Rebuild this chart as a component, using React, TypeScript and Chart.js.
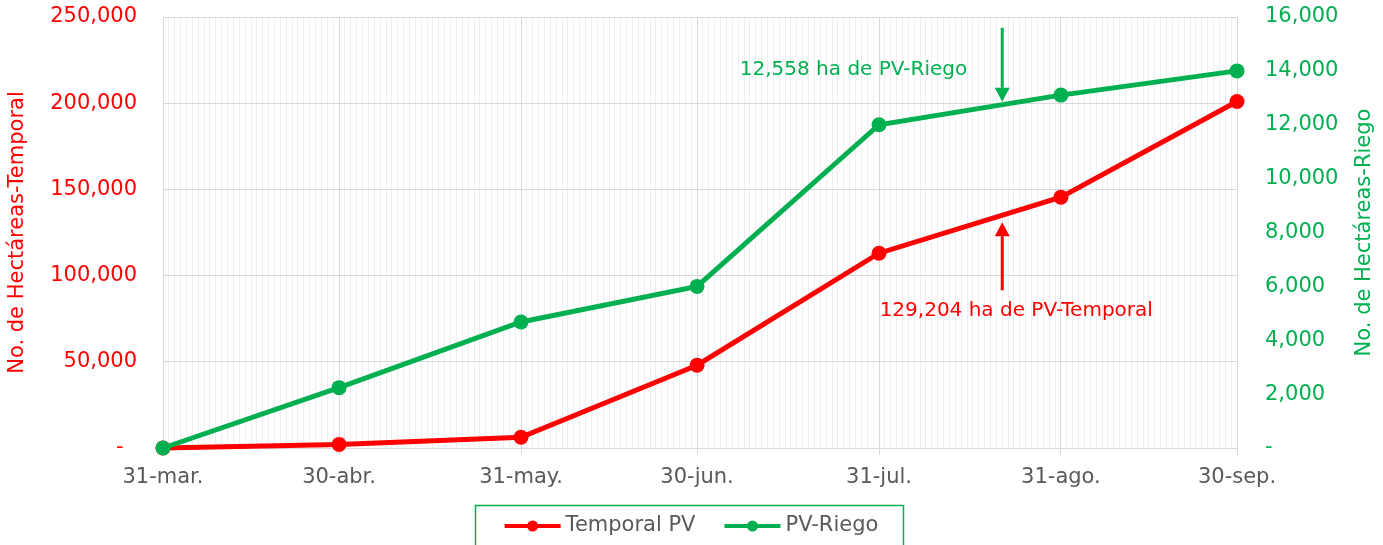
import { useEffect, useRef } from 'react';
import { Chart, registerables } from 'chart.js';

Chart.register(...registerables);

// ---- data ----
const dates = ['2023-03-31', '2023-04-30', '2023-05-31', '2023-06-30', '2023-07-31', '2023-08-31', '2023-09-30'];
const tickLabels = ['31-mar.', '30-abr.', '31-may.', '30-jun.', '31-jul.', '31-ago.', '30-sep.'];
const temporalPV = [0, 2100, 6200, 48000, 113000, 145500, 201000];
const pvRiego = [0, 2240, 4680, 6000, 12000, 13100, 14000];
const seriesLabels = ['Temporal PV', 'PV-Riego'];
const leftTitle = 'No. de Hectáreas-Temporal';
const rightTitle = 'No. de Hectáreas-Riego';
const noteTexts = ['12,558 ha de PV-Riego', '129,204 ha de PV-Temporal'];
const noteDate = '2023-08-21';
// arrow tail / tip / text-level values on each axis
const riegoNoteValues = [15600, 12850, 14030];
const temporalNoteValues = [91500, 131000, 79500];

const RED = '#ff0000';
const GREEN = '#00b050';
const GRAY = '#595959';
const FONT = '"DejaVu Sans", sans-serif';
const FS = 21;

const dayOf = (d: string) => Math.round((Date.parse(d) - Date.parse(dates[0])) / 864e5);
const majorDays = dates.map(dayOf);
const lastDay = majorDays[majorDays.length - 1];

const fmt = (v: number, pad: string) => (v === 0 ? '-' + pad : v.toLocaleString('en-US'));

const overlay = {
  id: 'overlay',
  afterDraw(chart: any) {
    const ctx = chart.ctx as CanvasRenderingContext2D;
    const xs = chart.scales.x;
    const yL = chart.scales.y;
    const yR = chart.scales.y1;
    const area = chart.chartArea;
    ctx.save();

    // right axis title (reads bottom-to-top)
    ctx.save();
    ctx.translate(chart.width - 18, (area.top + area.bottom) / 2);
    ctx.rotate(-Math.PI / 2);
    ctx.font = FS + 'px ' + FONT;
    ctx.fillStyle = GREEN;
    ctx.textAlign = 'center';
    ctx.textBaseline = 'middle';
    ctx.fillText(rightTitle, 0, 0);
    ctx.restore();

    const notes = [
      { text: noteTexts[0], scale: yR, vals: riegoNoteValues, color: GREEN, align: 'right', dx: -35 },
      { text: noteTexts[1], scale: yL, vals: temporalNoteValues, color: RED, align: 'center', dx: 14 },
    ];
    const ax = xs.getPixelForValue(dayOf(noteDate));
    for (const n of notes) {
      const tailY = n.scale.getPixelForValue(n.vals[0]);
      const tipY = n.scale.getPixelForValue(n.vals[1]);
      const dir = Math.sign(tipY - tailY);
      const headLen = 14;
      const headW = 7.5;
      ctx.strokeStyle = n.color;
      ctx.fillStyle = n.color;
      ctx.lineWidth = 3;
      ctx.beginPath();
      ctx.moveTo(ax, tailY);
      ctx.lineTo(ax, tipY - dir * headLen);
      ctx.stroke();
      ctx.beginPath();
      ctx.moveTo(ax, tipY);
      ctx.lineTo(ax - headW, tipY - dir * headLen);
      ctx.lineTo(ax + headW, tipY - dir * headLen);
      ctx.closePath();
      ctx.fill();
      ctx.font = '20px ' + FONT;
      ctx.textBaseline = 'middle';
      ctx.textAlign = n.align as CanvasTextAlign;
      ctx.fillText(n.text, ax + n.dx, n.scale.getPixelForValue(n.vals[2]));
    }

    // legend
    const items = chart.data.datasets.map((ds: any) => ({ label: ds.label, color: ds.borderColor }));
    ctx.font = FS + 'px ' + FONT;
    const lineLen = 56;
    const gapText = 5;
    const gapItem = 29;
    const widths = items.map((it: any) => lineLen + gapText + ctx.measureText(it.label).width);
    const total = widths.reduce((a: number, b: number) => a + b, 0) + gapItem * (items.length - 1);
    let cx = chart.width / 2 - total / 2;
    const ly = chart.height - 19;
    ctx.strokeStyle = GREEN;
    ctx.lineWidth = 1.5;
    ctx.strokeRect(Math.round(cx - 30) + 0.5, Math.round(ly - 21) + 0.5, Math.round(total + 54), 60);
    items.forEach((it: any, i: number) => {
      ctx.strokeStyle = it.color;
      ctx.fillStyle = it.color;
      ctx.lineWidth = 4;
      ctx.beginPath();
      ctx.moveTo(cx, ly);
      ctx.lineTo(cx + lineLen, ly);
      ctx.stroke();
      ctx.beginPath();
      ctx.arc(cx + lineLen / 2, ly, 5.5, 0, Math.PI * 2);
      ctx.fill();
      ctx.fillStyle = GRAY;
      ctx.textAlign = 'left';
      ctx.textBaseline = 'middle';
      ctx.fillText(it.label, cx + lineLen + gapText, ly);
      cx += widths[i] + gapItem;
    });
    ctx.restore();
  },
};

export default function App() {
  const ref = useRef<HTMLCanvasElement | null>(null);
  useEffect(() => {
    if (!ref.current) return;
    const days = dates.map(dayOf);
    const fixPad = (s: any) => {
      s.paddingTop = 12;
      s.paddingBottom = 12;
    };
    const chart = new Chart(ref.current, {
      type: 'line',
      data: {
        datasets: [
          {
            label: seriesLabels[0],
            data: days.map((d, i) => ({ x: d, y: temporalPV[i] })),
            borderColor: RED,
            backgroundColor: RED,
            pointBackgroundColor: RED,
            borderWidth: 5,
            pointRadius: 7.5,
            pointBorderWidth: 0,
            yAxisID: 'y',
            order: 1,
            clip: false,
          },
          {
            label: seriesLabels[1],
            data: days.map((d, i) => ({ x: d, y: pvRiego[i] })),
            borderColor: GREEN,
            backgroundColor: GREEN,
            pointBackgroundColor: GREEN,
            borderWidth: 5,
            pointRadius: 7.5,
            pointBorderWidth: 0,
            yAxisID: 'y1',
            order: 0,
            clip: false,
          },
        ],
      },
      options: {
        animation: false,
        responsive: false,
        devicePixelRatio: 1,
        layout: { padding: { top: 17, left: 0, right: 0, bottom: 0 } },
        plugins: { legend: { display: false }, tooltip: { enabled: false } },
        events: [],
        scales: {
          x: {
            type: 'linear',
            min: 0,
            max: lastDay,
            ticks: {
              stepSize: 1,
              autoSkip: false,
              maxRotation: 0,
              minRotation: 0,
              padding: 10,
              color: GRAY,
              font: { family: FONT, size: FS },
              callback: (v: any) => {
                const idx = majorDays.indexOf(Number(v));
                return idx >= 0 ? tickLabels[idx] : '';
              },
            },
            grid: {
              color: (c: any) => (majorDays.includes(c.tick?.value) ? '#d9d9d9' : '#eeeeee'),
              tickColor: (c: any) => (majorDays.includes(c.tick?.value) ? '#d9d9d9' : 'rgba(0,0,0,0)'),
              tickLength: 7,
              lineWidth: 1,
            },
            border: { color: '#d9d9d9' },
            afterFit: (s: any) => {
              s.height = 97;
            },
          },
          y: {
            type: 'linear',
            position: 'left',
            min: 0,
            max: 250000,
            ticks: {
              stepSize: 50000,
              padding: 26,
              color: RED,
              font: { family: FONT, size: FS },
              callback: (v: any) => fmt(Number(v), '  '),
            },
            grid: { color: '#d9d9d9', drawTicks: false },
            border: { display: false },
            title: {
              display: true,
              text: leftTitle,
              color: RED,
              font: { family: FONT, size: FS },
              padding: { top: 5, bottom: 0 },
            },
            afterFit: (s: any) => {
              s.width = 163;
              fixPad(s);
            },
          },
          y1: {
            type: 'linear',
            position: 'right',
            min: 0,
            max: 16000,
            ticks: {
              stepSize: 2000,
              padding: 28,
              color: GREEN,
              font: { family: FONT, size: FS },
              callback: (v: any) => fmt(Number(v), ''),
            },
            grid: { drawOnChartArea: false, drawTicks: false },
            border: { display: false },
            afterFit: (s: any) => {
              s.width = 146;
              fixPad(s);
            },
          },
        },
      } as any,
      plugins: [overlay],
    });
    return () => chart.destroy();
  }, []);
  return (
    <div style={{ position: 'absolute', left: 0, top: 0, width: 1383, height: 545, background: '#fff' }}>
      <canvas ref={ref} width={1383} height={545} style={{ display: 'block' }} />
    </div>
  );
}
